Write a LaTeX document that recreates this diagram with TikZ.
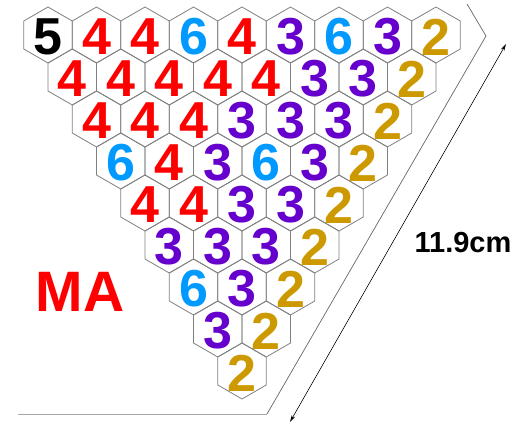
\documentclass[tikz,border=0pt]{standalone}
\usepackage{fontspec}
\setmainfont{Liberation Sans}
\usepackage{xcolor}
\usetikzlibrary{arrows.meta,shapes.geometric}
\definecolor{c2}{RGB}{204,153,0}
\definecolor{c3}{RGB}{102,0,204}
\definecolor{c4}{RGB}{255,0,0}
\definecolor{c5}{RGB}{0,0,0}
\definecolor{c6}{RGB}{0,153,255}

\begin{document}
\begin{tikzpicture}[
    x=1pt, y=-1pt,
    hexcell/.style={regular polygon, regular polygon sides=6, shape border rotate=30,
                    draw=gray, line width=0.8pt, minimum size=56pt, inner sep=0pt},
    digit/.style={inner sep=0pt, font=\fontsize{52}{52}\selectfont\bfseries},
    frame/.style={draw=gray!80!black, line width=0.7pt},
    arrow/.style={{Stealth[length=2.5mm,width=1.3mm]}-{Stealth[length=2.5mm,width=1.3mm]}, line width=0.6pt}
]
\useasboundingbox (0,0) rectangle (522,423);

\foreach \row/\list in {0/{5,4,4,6,4,3,6,3,2}, 1/{4,4,4,4,4,3,3,2}, 2/{4,4,4,3,3,3,2},
                        3/{6,4,3,6,3,2}, 4/{4,4,3,3,2}, 5/{3,3,3,2}, 6/{6,3,2},
                        7/{3,2}, 8/{2}}
    \foreach \d [count=\c from 0] in \list {
        \node[hexcell] (h\row-\c) at ({48+\row*24.25+\c*48.5},{35+\row*42}) {};
        \node[digit, text=c\d, yshift=-2pt] (d\row-\c) at (h\row-\c) {\d};
    }

\coordinate (ftop) at (467,4);
\coordinate (fcorner) at (486,36);
\coordinate (fbottom) at (267,414);
\coordinate (fleft) at (18,414);
\draw[frame] (ftop) -- (fcorner) -- (fbottom);
\draw[draw=gray!70, line width=0.9pt] (fbottom) -- (fleft);

\coordinate (mtop) at (506,44);
\coordinate (mbottom) at (290,422);
\draw[arrow] (mtop) -- (mbottom);
\node[font=\fontsize{29}{29}\selectfont\bfseries] (length) at (463,243) {11.9cm};

\node[font=\fontsize{57}{57}\selectfont\bfseries, text=c4] (ma) at (80,292) {MA};
\end{tikzpicture}
\end{document}
